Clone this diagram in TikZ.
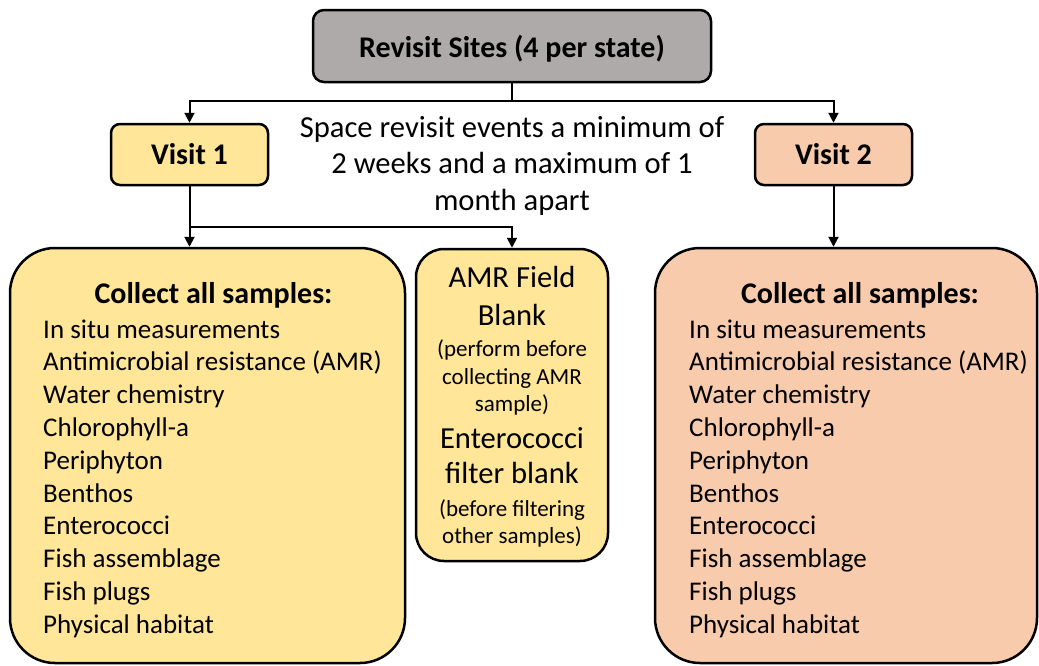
\documentclass[tikz,border=0pt]{standalone}
\usepackage{fontspec}
\setmainfont{Carlito}
\usetikzlibrary{arrows.meta}
\definecolor{siteGray}{HTML}{AEAAAA}
\definecolor{visitYellow}{HTML}{FFE699}
\definecolor{visitPeach}{HTML}{F8CBAD}
\begin{document}
\begin{tikzpicture}[x=1pt,y=-1pt,
  box/.style={draw=black, line width=2.5pt, inner sep=0pt},
  arr/.style={line width=2pt, -{Triangle[width=10pt,length=10pt]}},
  link/.style={line width=2pt},
  head/.style={inner sep=0pt, anchor=base, font=\bfseries\fontsize{30}{36}\selectfont},
  big/.style={inner sep=0pt, anchor=base, font=\fontsize{30.6}{36}\selectfont},
  small/.style={inner sep=0pt, anchor=base, font=\fontsize{23}{27}\selectfont},
  item/.style={inner sep=0pt, anchor=base west, font=\fontsize{27}{33}\selectfont}]
\useasboundingbox (0,0) rectangle (1039,665);

% boxes
\node[box, fill=siteGray, rounded corners=11pt, minimum width=398pt, minimum height=72pt] (sites) at (512,46) {};
\node[box, fill=visitYellow, rounded corners=9pt, minimum width=157pt, minimum height=61pt] (v1) at (189.5,154.5) {};
\node[box, fill=visitPeach, rounded corners=9pt, minimum width=157pt, minimum height=61pt] (v2) at (833.5,154.5) {};
\node[box, fill=visitYellow, rounded corners=45pt, minimum width=395pt, minimum height=415pt] (left) at (207.5,455.5) {};
\node[box, fill=visitYellow, rounded corners=28pt, minimum width=192pt, minimum height=312pt] (mid) at (512,405) {};
\node[box, fill=visitPeach, rounded corners=45pt, minimum width=382pt, minimum height=415pt] (right) at (846,455.5) {};

% connectors
\coordinate (split) at (512,101);
\coordinate (fork) at (189.5,227);
\draw[link] (sites.south) -- (split);
\draw[arr] (split) -| (v1.north);
\draw[arr] (split) -| (v2.north);
\draw[link] (v1.south) -- (fork);
\draw[arr] (fork) -- (fork |- left.north);
\draw[arr] (fork) -| (mid.north);
\draw[arr] (v2.south) -- (v2.south |- right.north);

% titles
\node[head] (sitesT) at (512,57) {Revisit Sites (4 per state)};
\node[head] (v1T) at (189.5,164) {Visit 1};
\node[head] (v2T) at (833.5,164) {Visit 2};

% spacing note
\node[big] (note1) at (512,137) {Space revisit events a minimum of};
\node[big] (note2) at (512,173.5) {2 weeks and a maximum of 1};
\node[big] (note3) at (512,210) {month apart};

% sample lists
\node[head] (leftT) at (213.5,303) {Collect all samples:};
\node[head] (rightT) at (860,303) {Collect all samples:};
\foreach \t [count=\i from 0] in {In situ measurements, Antimicrobial resistance (AMR), Water chemistry, Chlorophyll-a, Periphyton, Benthos, Enterococci, Fish assemblage, Fish plugs, Physical habitat}{
  \node[item] (la\i) at (43,338+32.8*\i) {\t};
  \node[item] (ra\i) at (689,338+32.8*\i) {\t};
}

% blanks
\node[big] (m1) at (512,287.3) {AMR Field};
\node[big] (m2) at (512,325) {Blank};
\node[small] (m3) at (512,356.7) {(perform before};
\node[small] (m4) at (512,384) {collecting AMR};
\node[small] (m5) at (512,411.7) {sample)};
\node[big] (m6) at (512,448.3) {Enterococci};
\node[big] (m7) at (512,483.3) {filter blank};
\node[small] (m8) at (512,516.7) {(before filtering};
\node[small] (m9) at (512,543.3) {other samples)};
\end{tikzpicture}
\end{document}
